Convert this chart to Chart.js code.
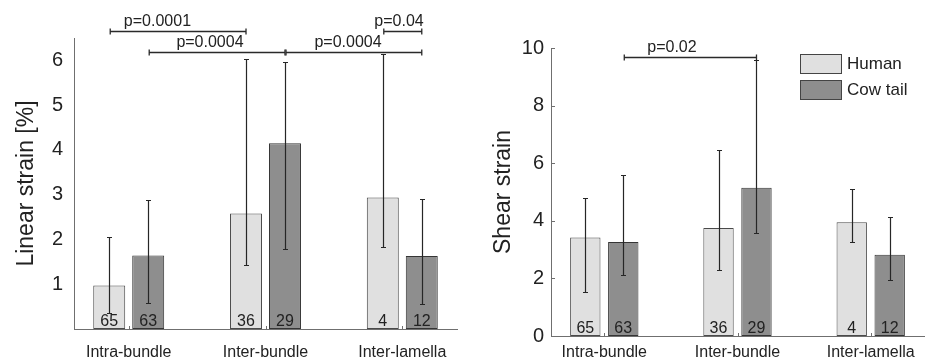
<!DOCTYPE html>
<html>
<head>
<meta charset="utf-8">
<script src="https://cdn.jsdelivr.net/npm/chart.js@4.4.0/dist/chart.umd.min.js"></script>
<style>
  html, body { margin: 0; padding: 0; background: #fff; }
  #wrap { position: relative; width: 925px; height: 364px; }
  #wrap canvas { position: absolute; top: 0; }
</style>
</head>
<body>
<div id="wrap">
  <canvas id="linearChart" width="462" height="364" style="left:0"></canvas>
  <canvas id="shearChart" width="463" height="364" style="left:462px"></canvas>
</div>
<script>
// ---- data ----
const categories = ['Intra-bundle', 'Inter-bundle', 'Inter-lamella'];
const seriesNames = ['Human', 'Cow tail'];

const linearHuman = [0.97, 2.58, 2.94];
const linearCow = [1.64, 4.15, 1.63];
const linearHumanLow = [0.36, 1.44, 1.83];
const linearHumanHigh = [2.05, 6.02, 6.14];
const linearCowLow = [0.59, 1.78, 0.56];
const linearCowHigh = [2.89, 5.96, 2.91];

const shearHuman = [3.42, 3.75, 3.95];
const shearCow = [3.26, 5.15, 2.82];
const shearHumanLow = [1.54, 2.30, 3.28];
const shearHumanHigh = [4.78, 6.47, 5.10];
const shearCowLow = [2.11, 3.57, 1.95];
const shearCowHigh = [5.58, 9.60, 4.12];

const countsHuman = [65, 36, 4];
const countsCow = [63, 29, 12];

const linearTicks = [1, 2, 3, 4, 5, 6];
const shearTicks = [0, 2, 4, 6, 8, 10];

// significance brackets: [category, series] -> [category, series] at a given value
const linearSigLabels = ['p=0.0001', 'p=0.0004', 'p=0.0004', 'p=0.04'];
const linearSigFrom = [[0, 0], [0, 1], [1, 1], [2, 0]];
const linearSigTo = [[1, 0], [1, 1], [2, 1], [2, 1]];
const linearSigLevel = [6.65, 6.18, 6.18, 6.65];

const shearSigLabels = ['p=0.02'];
const shearSigFrom = [[0, 1]];
const shearSigTo = [[1, 1]];
const shearSigLevel = [9.69];

// ---- styling ----
const FONT = '"Liberation Sans", Arial, sans-serif';
const TEXT = '#222';
const AXIS = '#6f6f6f';
const humanFill = '#e0e0e0';
const cowFill = '#8e8e8e';
Chart.defaults.font.family = FONT;
Chart.defaults.color = TEXT;

function points(values) {
  return values.map((v, i) => ({ x: i + 1, y: v }));
}

function makeDatasets(human, cow, lows, highs, barPct) {
  return [
    { label: seriesNames[0], data: points(human), backgroundColor: humanFill, borderColor: '#4a4a4a',
      borderWidth: 1, borderSkipped: false, barPercentage: barPct, categoryPercentage: 0.57,
      errLow: lows[0], errHigh: highs[0], counts: countsHuman },
    { label: seriesNames[1], data: points(cow), backgroundColor: cowFill, borderColor: '#353535',
      borderWidth: 1, borderSkipped: false, barPercentage: barPct, categoryPercentage: 0.57,
      errLow: lows[1], errHigh: highs[1], counts: countsCow }
  ];
}

// error bars + sample counts inside bars
const barExtras = {
  id: 'barExtras',
  afterDatasetsDraw(chart) {
    const ctx = chart.ctx;
    const y = chart.scales.y;
    ctx.save();
    ctx.strokeStyle = '#262626';
    ctx.lineWidth = 1.2;
    chart.data.datasets.forEach((ds, di) => {
      chart.getDatasetMeta(di).data.forEach((bar, i) => {
        const x = Math.round(bar.x) + 0.5;
        const lo = Math.round(y.getPixelForValue(ds.errLow[i])) + 0.5;
        const hi = Math.round(y.getPixelForValue(ds.errHigh[i])) + 0.5;
        ctx.beginPath();
        ctx.moveTo(x, lo); ctx.lineTo(x, hi);
        ctx.moveTo(x - 2.5, lo); ctx.lineTo(x + 2.5, lo);
        ctx.moveTo(x - 2.5, hi); ctx.lineTo(x + 2.5, hi);
        ctx.stroke();
      });
    });
    ctx.fillStyle = TEXT;
    ctx.font = '16px ' + FONT;
    ctx.textAlign = 'center';
    ctx.textBaseline = 'alphabetic';
    chart.data.datasets.forEach((ds, di) => {
      chart.getDatasetMeta(di).data.forEach((bar, i) => {
        ctx.fillText(String(ds.counts[i]), bar.x, chart.chartArea.bottom - 3);
      });
    });
    ctx.restore();
  }
};

function bracketPlugin(labels, from, to, levels, textX) {
  return {
    id: 'brackets',
    afterDraw(chart) {
      const ctx = chart.ctx;
      const y = chart.scales.y;
      const xs = chart.scales.x;
      const barX = (p) => chart.getDatasetMeta(p[1]).data[p[0]].x;
      ctx.save();
      ctx.strokeStyle = '#2a2a2a';
      ctx.lineWidth = 1.3;
      ctx.fillStyle = TEXT;
      ctx.font = '16px ' + FONT;
      ctx.textAlign = 'center';
      ctx.textBaseline = 'alphabetic';
      labels.forEach((lab, k) => {
        const x1 = barX(from[k]) + 1, x2 = barX(to[k]);
        const py = Math.round(y.getPixelForValue(levels[k])) + 0.5;
        ctx.beginPath();
        ctx.moveTo(x1, py); ctx.lineTo(x2, py);
        ctx.moveTo(x1, py - 3); ctx.lineTo(x1, py + 3);
        ctx.moveTo(x2, py - 3); ctx.lineTo(x2, py + 3);
        ctx.stroke();
        ctx.fillText(lab, xs.getPixelForValue(textX[k]), py - 6);
      });
      ctx.restore();
    }
  };
}

function axisTicks(yInward) {
  return {
    id: 'axisTicks',
    afterDraw(chart) {
      const ctx = chart.ctx;
      const { left, bottom } = chart.chartArea;
      ctx.save();
      ctx.strokeStyle = AXIS;
      ctx.lineWidth = 1;
      ctx.beginPath();
      chart.scales.x.ticks.forEach(t => {
        const px = Math.round(chart.scales.x.getPixelForValue(t.value)) + 0.5;
        ctx.moveTo(px, bottom); ctx.lineTo(px, bottom - 3);
      });
      if (yInward) {
        chart.scales.y.ticks.forEach(t => {
          const py = Math.round(chart.scales.y.getPixelForValue(t.value)) + 0.5;
          ctx.moveTo(left, py); ctx.lineTo(left + 4, py);
        });
      }
      ctx.stroke();
      ctx.restore();
    }
  };
}

const legendBoxes = {
  id: 'legendBoxes',
  afterDraw(chart) {
    const ctx = chart.ctx;
    ctx.save();
    ctx.font = '17px ' + FONT;
    ctx.textBaseline = 'middle';
    ctx.textAlign = 'left';
    chart.data.datasets.forEach((ds, i) => {
      const top = 54.5 + i * 26;
      ctx.fillStyle = ds.backgroundColor;
      ctx.fillRect(338.5, top, 41, 19);
      ctx.strokeStyle = '#444';
      ctx.lineWidth = 1;
      ctx.strokeRect(338.5, top, 41, 19);
      ctx.fillStyle = TEXT;
      ctx.fillText(ds.label, 385, top + 10);
    });
    ctx.restore();
  }
};

function makeChart(id, cfg) {
  return new Chart(document.getElementById(id).getContext('2d'), {
    type: 'bar',
    data: { datasets: cfg.datasets },
    options: {
      responsive: false,
      animation: false,
      layout: { padding: cfg.padding },
      plugins: { legend: { display: false }, tooltip: { enabled: false } },
      scales: {
        x: {
          type: 'linear', min: 0.6, max: 3.4, offset: false,
          grid: { display: false, drawTicks: false },
          border: { display: true, color: AXIS, width: 1 },
          afterBuildTicks: s => { s.ticks = categories.map((c, i) => ({ value: i + 1 })); },
          afterFit: s => { s.height = cfg.xHeight; },
          ticks: { padding: cfg.xPad, autoSkip: false, maxRotation: 0, color: TEXT,
                   font: { size: 16 }, callback: v => categories[v - 1] }
        },
        y: {
          min: 0, max: cfg.yMax,
          grid: { display: false, drawTicks: false },
          border: { display: true, color: AXIS, width: 1 },
          afterBuildTicks: s => { s.ticks = cfg.yTicks.map(v => ({ value: v })); },
          afterFit: s => { s.width = cfg.yWidth; },
          ticks: { padding: cfg.yPad, color: TEXT, font: { size: 20 } },
          title: { display: true, text: cfg.yTitle, color: TEXT, font: { size: 23 },
                   padding: { top: cfg.titlePad, bottom: 0 } }
        }
      }
    },
    plugins: cfg.plugins
  });
}

makeChart('linearChart', {
  datasets: makeDatasets(linearHuman, linearCow, [linearHumanLow, linearCowLow], [linearHumanHigh, linearCowHigh], 0.82),
  padding: { left: 0, top: 38, right: 5, bottom: 0 },
  xHeight: 35, xPad: 14, yWidth: 74, yPad: 11, yMax: 6.5, yTicks: linearTicks,
  yTitle: 'Linear strain [%]', titlePad: 13,
  plugins: [barExtras, axisTicks(false),
            bracketPlugin(linearSigLabels, linearSigFrom, linearSigTo, linearSigLevel, [1.21, 1.594, 2.603, 2.976])]
});

makeChart('shearChart', {
  datasets: makeDatasets(shearHuman, shearCow, [shearHumanLow, shearCowLow], [shearHumanHigh, shearCowHigh], 0.8),
  padding: { left: 0, top: 48, right: 1, bottom: 0 },
  xHeight: 28, xPad: 7, yWidth: 89, yPad: 7, yMax: 10, yTicks: shearTicks,
  yTitle: 'Shear strain', titlePad: 28,
  plugins: [barExtras, axisTicks(true), legendBoxes,
            bracketPlugin(shearSigLabels, shearSigFrom, shearSigTo, shearSigLevel, [1.508])]
});
</script>
</body>
</html>
